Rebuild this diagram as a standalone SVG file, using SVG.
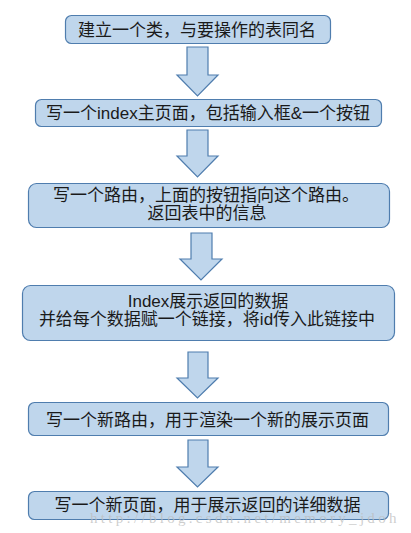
<svg xmlns="http://www.w3.org/2000/svg" width="411" height="533" viewBox="0 0 411 533">
<style>
.box{fill:#BFD6EC;stroke:#4F7DAE;stroke-width:1.2}
.arr{fill:#BFD6EC;stroke:#4F7DAE;stroke-width:1.2;stroke-linejoin:miter}
.t{font-family:"Liberation Sans","Noto Sans CJK SC",sans-serif;font-size:17px;fill:#1a1a1a;text-anchor:middle}
.wm{font-family:"Liberation Serif","DejaVu Serif",serif;font-size:15px;fill:#bdbdbd;fill-opacity:0.75;letter-spacing:3.3px}
</style>
<rect width="411" height="533" fill="#ffffff"/>
<g id="connectors">
<polygon class="arr" points="187,47 208,47 208,75 218,75 197.5,96 177,75 187,75"/>
<polygon class="arr" points="187,130 208,130 208,156 218,156 197.5,177 177,156 187,156"/>
<polygon class="arr" points="191,233 212,233 212,259 222,259 201,280 180,259 191,259"/>
<polygon class="arr" points="188,352 208,352 208,378 218,378 197.5,398 177,378 188,378"/>
<polygon class="arr" points="188,440 208,440 208,467 218,467 197.5,487 177,467 188,467"/>
</g>
<g id="node1">
<rect class="box" x="65.5" y="15.5" width="265" height="28" rx="6"/>
<text class="t" x="197" y="35.5">建立一个类，与要操作的表同名</text>
</g>
<g id="node2">
<rect class="box" x="35.5" y="99.5" width="346" height="27" rx="6"/>
<text class="t" x="208" y="118.5">写一个index主页面，包括输入框&amp;一个按钮</text>
</g>
<g id="node3">
<rect class="box" x="28.5" y="183.5" width="361" height="44" rx="8"/>
<text class="t" x="206" y="201">写一个路由，上面的按钮指向这个路由。</text>
<text class="t" x="207" y="218.5">返回表中的信息</text>
</g>
<g id="node4">
<rect class="box" x="22.5" y="285.5" width="372" height="55" rx="8"/>
<text class="t" x="208" y="307">Index展示返回的数据</text>
<text class="t" x="207" y="325">并给每个数据赋一个链接，将id传入此链接中</text>
</g>
<g id="node5">
<rect class="box" x="28.5" y="402.5" width="360" height="33" rx="6"/>
<text class="t" x="207.5" y="426">写一个新路由，用于渲染一个新的展示页面</text>
</g>
<g id="node6">
<rect class="box" x="28.5" y="491.5" width="360" height="28" rx="6"/>
<text class="t" x="207.5" y="511">写一个新页面，用于展示返回的详细数据</text>
</g>
<text class="wm" x="90" y="523">http://blog.csdn.net/memory_jdoh</text>
</svg>
